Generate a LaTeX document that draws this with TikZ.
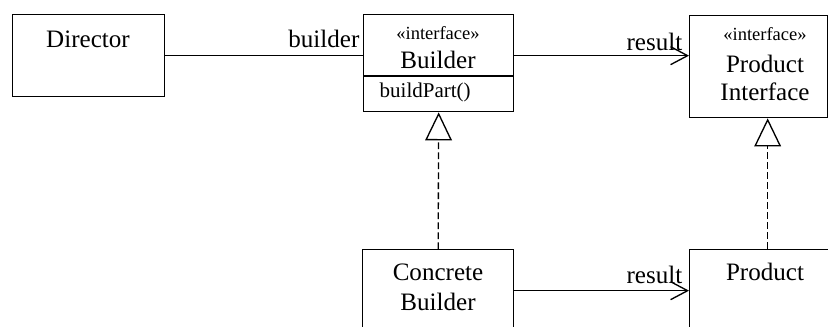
\documentclass[tikz,border=0pt]{standalone}
\usepackage{fontspec}
\setmainfont{Liberation Serif}
\usetikzlibrary{arrows.meta,positioning}
\begin{document}
\begin{tikzpicture}[
            x=0.75pt, y=-0.75pt,
            line width=1pt,
            classbox/.style={draw, rectangle, inner sep=0pt, anchor=north west},
            txt/.style={inner sep=0pt, anchor=base, font=\fontsize{18.8}{22}\selectfont},
            stereo/.style={inner sep=0pt, anchor=base, font=\fontsize{13.9}{16}\selectfont},
            oper/.style={inner sep=0pt, anchor=base west, font=\fontsize{15.75}{18}\selectfont},
            rolelabel/.style={inner sep=0pt, anchor=base east, font=\fontsize{18.8}{22}\selectfont},
            assoc/.style={draw},
            navig/.style={-{Straight Barb[length=12.75pt, width=13.5pt]}},
            realize/.style={dash pattern=on 5pt off 2.5pt, -{Triangle[open, length=21pt, width=20pt]}}
            ]
            \useasboundingbox (0,0) rectangle (828,326);
            \clip (0,0) rectangle (828,326);
            % classes
            \node[classbox, minimum width=114pt, minimum height=61.5pt] (dir) at (12,14) {};
            \node[classbox, minimum width=112.5pt, minimum height=72.75pt] (bld) at (363,14) {};
            \node[classbox, minimum width=103.5pt, minimum height=76.5pt] (pi) at (689,15) {};
            \node[classbox, minimum width=113.25pt, minimum height=61.5pt] (cb) at (362,249) {};
            \node[classbox, minimum width=117pt, minimum height=61.5pt] (prod) at (689,249) {};
            \draw ([yshift=-46.5pt]bld.north west) -- ([yshift=-46.5pt]bld.north east);
            % texts
            \node[txt] (dirname) at (88,47) {Director};
            \node[stereo] (bldstereo) at (438,39) {«interface»};
            \node[txt] (bldname) at (438,68) {Builder};
            \node[oper] (bldop) at (379,97) {buildPart()};
            \node[stereo] (pistereo) at (765,40) {«interface»};
            \node[txt] (piname) at (765,72) {Product};
            \node[txt] (piname2) at (765,100) {Interface};
            \node[txt] (cbname) at (438,280) {Concrete};
            \node[txt] (cbname2) at (438,310) {Builder};
            \node[txt] (prodname) at (765,280) {Product};
            % connectors
            \draw[assoc] (dir.east) -- (dir.east -| bld.west);
            \draw[navig] (bld.east |- dir.east) -- (pi.west |- dir.east);
            \draw[navig] (cb.east) -- (prod.west);
            \draw[realize] (cb.north) -- (bld.south);
            \draw[realize] (prod.north) -- (prod.north |- pi.south);
            \node[rolelabel] (rolebuilder) at (360,47) {builder};
            \node[rolelabel] (roleresult) at (683,50) {result};
            \node[rolelabel] (roleresult2) at (683,283) {result};
        \end{tikzpicture}
\end{document}
